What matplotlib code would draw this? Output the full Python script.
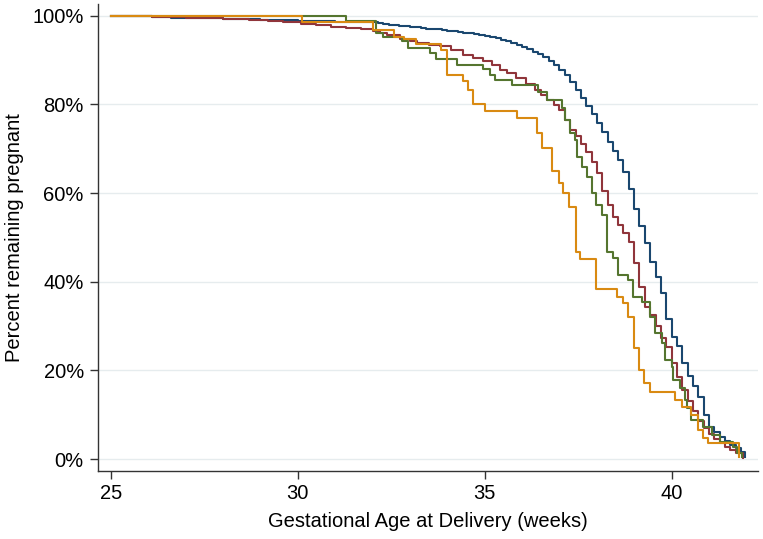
import matplotlib
matplotlib.use("Agg")
import matplotlib.pyplot as plt
from matplotlib.ticker import FuncFormatter

# Kaplan-Meier style curves: (weeks, percent remaining pregnant)
blue_weeks = [25.0, 26.1, 26.6, 27.0, 27.5, 28.0, 28.5, 29.0, 29.5, 30.0, 30.5, 31.0, 31.5, 32.0,
              32.14, 32.29, 32.43, 32.57, 32.71, 32.86, 33.0, 33.14, 33.29, 33.43, 33.57, 33.71,
              33.86, 34.0, 34.14, 34.29, 34.43, 34.57, 34.71, 34.86, 35.0, 35.14, 35.29, 35.43,
              35.57, 35.71, 35.86, 36.0, 36.14, 36.29, 36.43, 36.57, 36.71, 36.86,
              37.0, 37.14, 37.29, 37.43, 37.57, 37.71, 37.86,
              38.0, 38.14, 38.29, 38.43, 38.57, 38.71, 38.86, 39.0, 39.14, 39.29, 39.43, 39.57,
              39.71, 39.86, 40.0, 40.14, 40.29, 40.43, 40.57, 40.71, 40.86, 41.0, 41.14, 41.29,
              41.43, 41.57, 41.71, 41.86, 41.97]
blue_pct = [100, 99.7, 99.6, 99.5, 99.4, 99.3, 99.2, 99.1, 99.0, 98.9, 98.8, 98.7, 98.6, 98.5,
            98.3, 98.1, 98.0, 97.9, 97.7, 97.6, 97.5, 97.4, 97.2, 97.1, 97.0, 96.9,
            96.7, 96.6, 96.5, 96.3, 96.1, 96.0, 95.8, 95.6, 95.4, 95.2, 94.9, 94.6,
            94.3, 93.9, 93.5, 93.0, 92.5, 91.9, 91.3, 90.6, 89.8, 88.9,
            87.8, 86.6, 85.0, 83.3, 81.5, 79.7, 77.8,
            75.9, 73.8, 71.5, 69.5, 67.4, 64.8, 61.0, 56.5, 52.5, 48.8, 44.5, 41.0,
            37.5, 31.5, 27.5, 25.5, 21.7, 18.8, 16.5, 14.0, 10.0, 7.2, 6.0, 5.0,
            4.0, 3.2, 2.4, 1.6, 0.4]

maroon_weeks = [25.0, 26.1, 27.0, 28.0, 28.7, 29.2, 29.6, 30.1, 30.5, 30.9, 31.3, 31.7, 32.0, 32.2,
                32.4, 32.73, 33.0, 33.2, 33.5, 33.8,
                34.1, 34.41, 34.7, 34.95, 35.2, 35.4, 35.6, 35.85, 36.1, 36.34, 36.5, 36.66,
                36.86, 37.0, 37.14, 37.27, 37.43, 37.57, 37.71, 37.86, 38.0, 38.14, 38.29,
                38.43, 38.57, 38.71, 38.86, 39.0, 39.14, 39.29, 39.43, 39.57, 39.71, 39.86,
                40.0, 40.14, 40.29, 40.43, 40.57, 40.71, 40.86, 41.0, 41.14, 41.29, 41.43,
                41.57, 41.71, 41.92]
maroon_pct = [100, 99.7, 99.5, 99.3, 99.0, 98.8, 98.5, 98.1, 97.8, 97.5, 97.2, 96.9, 96.6, 96.1,
              95.6, 94.7, 94.2, 93.8, 93.4, 93.1,
              92.2, 91.2, 90.5, 89.7, 88.8, 87.8, 87.0, 85.9, 84.6, 83.3, 82.2, 81.0,
              79.8, 78.8, 76.5, 74.3, 72.8, 71.0, 69.2, 67.0, 64.6, 60.5, 57.2,
              54.6, 52.7, 51.0, 49.0, 44.2, 38.8, 34.3, 32.5, 30.0, 27.3, 25.3,
              21.7, 18.5, 15.6, 13.2, 10.8, 8.6, 6.9, 5.6, 4.6, 3.6, 2.7,
              2.0, 1.4, 0.3]

green_weeks = [25.0, 31.28, 32.1, 32.28, 32.8, 32.95, 33.53, 33.7, 34.25, 34.95, 35.13, 35.27,
               35.72, 36.42, 36.66, 37.06, 37.14, 37.27, 37.41, 37.46, 37.6, 37.73, 37.86,
               37.99, 38.13, 38.26, 38.42, 38.56, 38.82, 38.96, 39.22, 39.41, 39.55, 39.73,
               39.81, 40.0, 40.03, 40.21, 40.35, 40.4, 40.53, 40.83, 41.07, 41.28, 41.63,
               41.76, 41.88]
green_pct = [100, 98.8, 96.2, 95.1, 94.2, 92.7, 91.6, 90.2, 89.0, 88.0, 86.7, 85.6,
             84.4, 82.8, 81.0, 79.2, 76.5, 73.6, 72.0, 68.2, 65.9, 63.7, 60.0,
             57.3, 55.1, 46.7, 45.4, 41.5, 40.4, 36.6, 35.4, 32.1, 28.4, 26.2,
             22.3, 20.8, 17.8, 16.0, 13.3, 11.5, 8.8, 7.2, 5.4, 3.8, 2.7,
             1.4, 0.5]

orange_weeks = [25.0, 30.12, 32.0, 32.57, 32.84, 33.16, 33.82, 33.98, 34.41, 34.55, 34.68, 35.0,
                35.86, 36.39, 36.52, 36.8, 36.98, 37.1, 37.25, 37.43, 37.54, 37.99, 38.53,
                38.69, 38.82, 38.98, 39.12, 39.25, 39.41, 40.1, 40.27, 40.53, 40.7, 40.83,
                40.98, 41.8]
orange_pct = [100, 98.5, 96.7, 95.1, 94.7, 93.6, 92.3, 86.7, 85.2, 83.3, 80.1, 78.4,
              76.9, 73.6, 70.2, 64.9, 62.3, 60.0, 56.9, 46.7, 45.1, 38.4, 36.6,
              35.2, 32.1, 25.1, 20.1, 17.2, 15.1, 13.3, 11.7, 9.9, 6.5, 4.7,
              3.6, 0.5]

series = [
    (blue_weeks, blue_pct, "#1A476F"),
    (maroon_weeks, maroon_pct, "#90353B"),
    (green_weeks, green_pct, "#55752F"),
    (orange_weeks, orange_pct, "#D98A12"),
]

plt.rcParams['font.family'] = ['Liberation Sans', 'DejaVu Sans']

fig = plt.figure(figsize=(7.63, 5.39), dpi=100)
ax = fig.add_axes([0.128, 0.127, 0.865, 0.866])

for w, p, c in series:
    ax.step(w, p, where='post', color=c, lw=1.5)

ax.set_xlim(24.65, 42.3)
ax.set_ylim(-2.6, 102.7)
ax.set_xticks([25, 30, 35, 40])
ax.set_yticks([0, 20, 40, 60, 80, 100])
ax.yaxis.set_major_formatter(FuncFormatter(lambda v, _: f"{v:.0f}%"))

ax.yaxis.grid(True, color="#e6ecee", lw=1.0)
ax.set_axisbelow(True)
for s in ['top', 'right']:
    ax.spines[s].set_visible(False)
for s in ['left', 'bottom']:
    ax.spines[s].set_color("#333333")
    ax.spines[s].set_linewidth(1.0)
ax.tick_params(direction='out', length=6, width=1.0, color="#333333", labelsize=14.5, pad=4)

ax.set_xlabel('Gestational Age at Delivery (weeks)', fontsize=14.5, labelpad=6)
ax.set_ylabel('Percent remaining pregnant', fontsize=14.5, labelpad=6)

fig.savefig('out.png', dpi=100)
